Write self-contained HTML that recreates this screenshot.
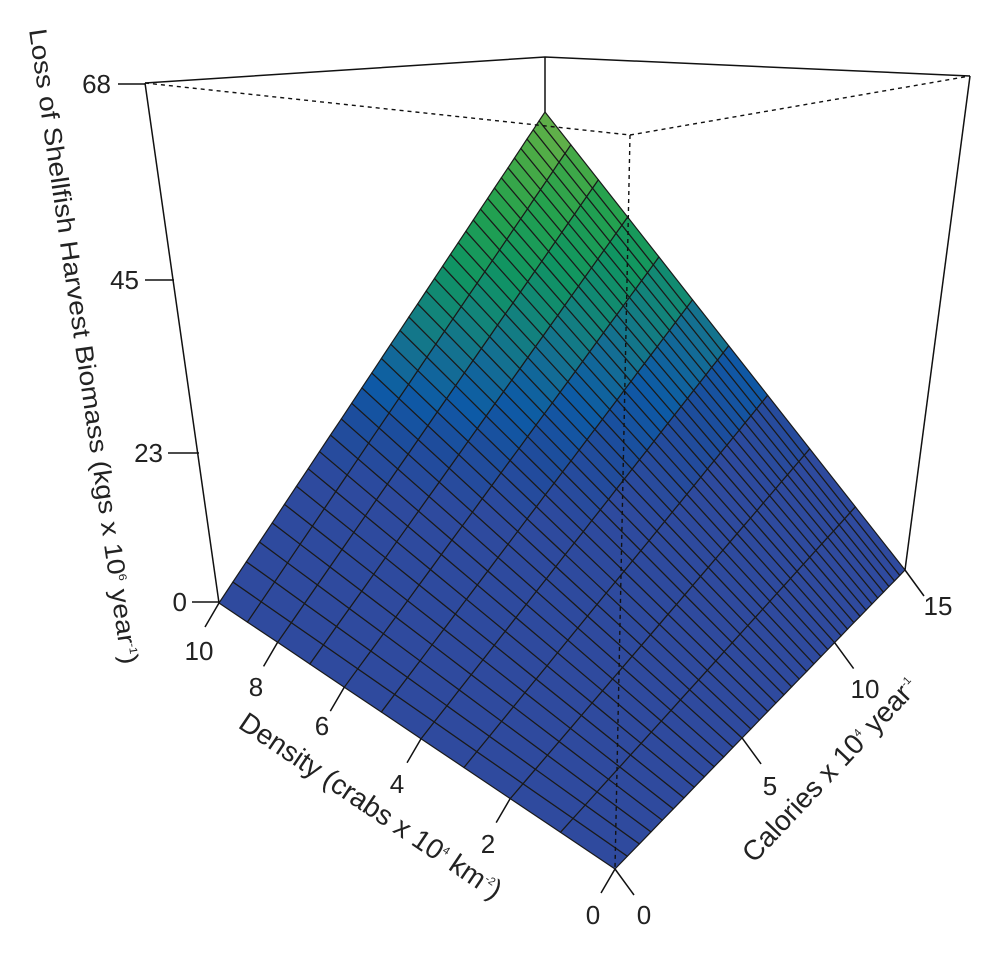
<!DOCTYPE html>
<html><head><meta charset="utf-8"><style>
html,body{margin:0;padding:0;background:#fff;}
svg{display:block;font-family:"Liberation Sans",Arial,sans-serif;}
</style></head><body>
<svg id="s" width="1000" height="954" viewBox="0 0 1000 954" xmlns="http://www.w3.org/2000/svg">
<g id="surf"></g>
<g stroke="#111" stroke-width="1.5" fill="none">
<polyline points="145,83 545,57 970,76"/>
<line x1="545" y1="57" x2="545" y2="112"/>
<line x1="145" y1="83" x2="219" y2="603"/>
<line x1="970" y1="76" x2="905" y2="570"/>
</g>
<g stroke="#111" stroke-width="1.4" fill="none" stroke-dasharray="4,4">
<line x1="145" y1="83" x2="630" y2="135"/>
<line x1="630" y1="135" x2="970" y2="76"/>
<line x1="630" y1="135" x2="615" y2="868"/>
</g>
<g stroke="#111" stroke-width="1.5">
<line x1="118" y1="84" x2="145" y2="84"/>
<line x1="145" y1="280" x2="174" y2="280"/>
<line x1="168" y1="453" x2="199" y2="453"/>
<line x1="192" y1="602" x2="219" y2="602"/>
</g>
<g font-size="26" fill="#222" text-anchor="end">
<text x="111" y="93">68</text>
<text x="139" y="289">45</text>
<text x="163" y="462">23</text>
<text x="187" y="611">0</text>
</g>
<g id="ticks" stroke="#111" stroke-width="1.5"></g>
<g font-size="26" fill="#222" text-anchor="middle">
<text x="199" y="660">10</text>
<text x="256" y="696">8</text>
<text x="322" y="735">6</text>
<text x="397" y="793">4</text>
<text x="488" y="853">2</text>
<text x="593" y="924">0</text>
<text x="644" y="924">0</text>
<text x="770" y="795">5</text>
<text x="865" y="698">10</text>
<text x="938" y="615">15</text>
</g>
<text transform="translate(29,30) rotate(81.7)" font-size="25" fill="#222" textLength="642" lengthAdjust="spacingAndGlyphs">Loss of Shellfish Harvest Biomass (kgs x 10<tspan font-size="11" dy="-10">6</tspan><tspan dy="10"> year</tspan><tspan font-size="11" dy="-10">-1</tspan><tspan dy="10">)</tspan></text>
<text transform="translate(237,727) rotate(34)" font-size="28" fill="#222">Density (crabs x 10<tspan font-size="11" dy="-11">4</tspan><tspan dy="11">  km</tspan><tspan font-size="11" dy="-11">-2</tspan><tspan dy="11">)</tspan></text>
<text transform="translate(754,864) rotate(-46.7)" font-size="28" fill="#222">Calories x 10<tspan font-size="11" dy="-11">4</tspan><tspan dy="11">   year</tspan><tspan font-size="11" dy="-11">-1</tspan></text>
</svg>
<script>
(function(){
var O=[615,869],D=[219,603],C=[905,570],T=[545,112];
function w(t,a){return t*(1+a)/(1+a*t);}
function P(u,v){
 var x=(1-u)*(1-v)*O[0]+u*(1-v)*D[0]+(1-u)*v*C[0]+u*v*T[0];
 var y=(1-u)*(1-v)*O[1]+u*(1-v)*D[1]+(1-u)*v*C[1]+u*v*T[1];
 return [x,y];}
var stops=[[0,[47,74,158]],[0.27,[46,74,158]],[0.37,[30,76,156]],[0.44,[13,90,166]],[0.52,[20,111,147]],[0.6,[18,133,122]],[0.68,[16,149,98]],[0.8,[37,162,78]],[0.9,[74,171,70]],[1,[112,179,76]]];
function col(z){for(var i=1;i<stops.length;i++){if(z<=stops[i][0]){var a=stops[i-1],b=stops[i],t=(z-a[0])/(b[0]-a[0]);
 var c=[0,1,2].map(function(k){return Math.round(a[1][k]+(b[1][k]-a[1][k])*t);});return 'rgb('+c.join(',')+')';}}return 'rgb(112,179,76)';}
var ND=10,NC=36,ad=0.44,ac=0.56,h='';
for(var i=0;i<ND;i++)for(var j=0;j<NC;j++){
 var u0=w(i/ND,ad),u1=w((i+1)/ND,ad),v0=w(j/NC,ac),v1=w((j+1)/NC,ac);
 var p=[P(u0,v0),P(u1,v0),P(u1,v1),P(u0,v1)];
 var z=((u0+u1)/2)*((v0+v1)/2);
 h+='<polygon points="'+p.map(function(q){return q[0].toFixed(1)+','+q[1].toFixed(1);}).join(' ')+'" fill="'+col(z)+'" stroke="#1a1a1a" stroke-width="1.2" stroke-linejoin="round"/>';
}
document.getElementById('surf').innerHTML=h;
var t='';
for(var d=0;d<=10;d+=2){var q=P(w(d/10,ad),0);t+='<line x1="'+q[0]+'" y1="'+q[1]+'" x2="'+(q[0]-14)+'" y2="'+(q[1]+24)+'"/>';}
for(var c=0;c<=15;c+=5){var q=P(0,w(c/15,ac));t+='<line x1="'+q[0]+'" y1="'+q[1]+'" x2="'+(q[0]+19)+'" y2="'+(q[1]+26)+'"/>';}
document.getElementById('ticks').innerHTML=t;
})();
</script>
</body></html>
